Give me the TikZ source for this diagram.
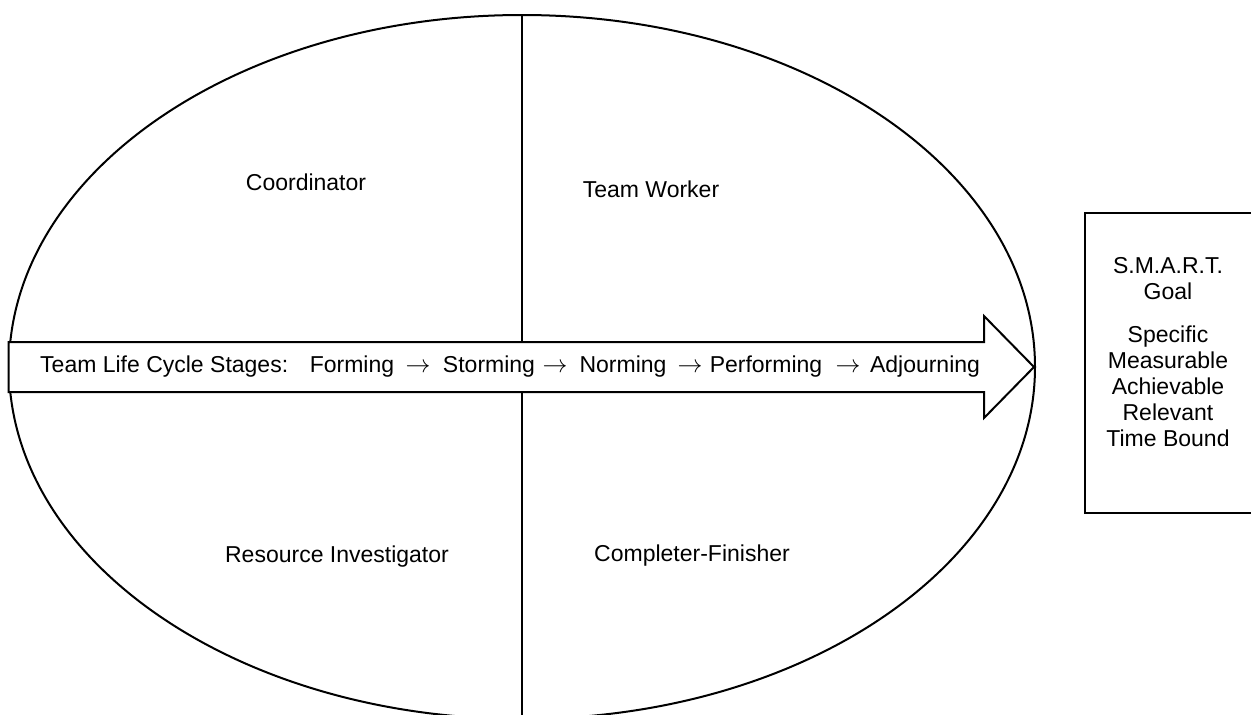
\documentclass[tikz,border=0pt]{standalone}
\usepackage{fontspec}
\setmainfont{Liberation Sans}
\usetikzlibrary{shapes.geometric}
\begin{document}
\begin{tikzpicture}[x=1pt,y=-1pt,
  lbl/.style={inner sep=0pt,font=\fontsize{23}{26}\selectfont},
  arr/.style={inner sep=0pt,font=\fontsize{25}{26}\selectfont},
  outline/.style={draw=black,line width=2pt}]
\useasboundingbox (0,0) rectangle (1251,715);
\clip (0,0) rectangle (1251,715);
\fill[white] (0,0) rectangle (1251,715);
% ellipse
\node[outline,ellipse,minimum width=1026pt,minimum height=704pt,inner sep=0pt] (ell) at (522,367) {};
\draw[line width=1.4pt] (ell.north) -- (ell.south);
% big arrow
\draw[outline,fill=white,line join=miter]
  (8.5,342) -- (984,342) -- (984,316) -- (1034,367) -- (984,418) -- (984,392) -- (8.5,392) -- cycle;
% arrow text
\node[lbl,anchor=west] (stages) at (40,367) {Team Life Cycle Stages:};
\node[lbl] (forming) at (352,367) {Forming};
\node[arr] (a1) at (418,368) {$\rightarrow$};
\node[lbl] (storming) at (489,367) {Storming};
\node[arr] (a2) at (555,368) {$\rightarrow$};
\node[lbl] (norming) at (623,367) {Norming};
\node[arr] (a3) at (690,368) {$\rightarrow$};
\node[lbl] (performing) at (766,367) {Performing};
\node[arr] (a4) at (848,368) {$\rightarrow$};
\node[lbl] (adjourning) at (925,367) {Adjourning};
% quadrant labels
\node[lbl] (coord) at (306,182) {Coordinator};
\node[lbl] (tw) at (651,189) {Team Worker};
\node[lbl] (ri) at (337,557) {Resource Investigator};
\node[lbl] (cf) at (692,556) {Completer-Finisher};
% SMART box
\draw[outline] (1085,213) rectangle (1270,513);
\node[lbl,align=center] (smart) at (1168,352) {S.M.A.R.T.\\Goal\\[17pt]Specific\\Measurable\\Achievable\\Relevant\\Time Bound};
\end{tikzpicture}
\end{document}
